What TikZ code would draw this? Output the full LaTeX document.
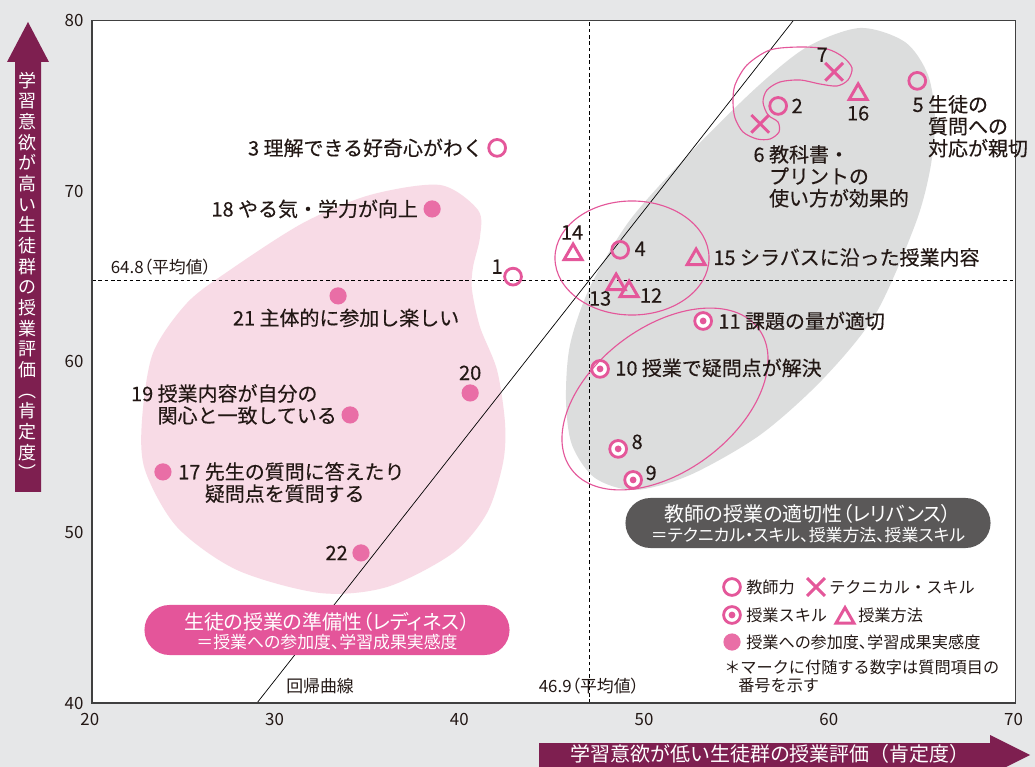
\documentclass[tikz,border=0pt]{standalone}
\usepackage{fontspec}
\setmainfont{Noto Sans CJK JP}
\newfontfamily\jpp{Noto Sans CJK JP}[RawFeature=+palt]
\newfontfamily\jpm{Noto Sans CJK JP}[FakeBold=0.3]
\usetikzlibrary{calc,shapes.geometric,shapes.misc}

\definecolor{bggray}{HTML}{E6E7E8}
\definecolor{blobgray}{HTML}{DCDDDD}
\definecolor{blobpink}{HTML}{F8DBE6}
\definecolor{mkpink}{HTML}{E4579A}
\definecolor{dotpink}{HTML}{E96EA6}
\definecolor{pillpink}{HTML}{E4559A}
\definecolor{pilldark}{HTML}{5A5858}
\definecolor{maroon}{HTML}{7E1F50}
\definecolor{ink}{HTML}{231815}

\tikzset{
  data/.style={shift={(92,703)},x=0.46175cm,y=0.42625cm,shift={(-20,-40)}},
  lbl/.style={inner sep=0pt,align=left,text=ink,font=\jpm\fontsize{14.2}{15.6}\selectfont},
  tick/.style={inner sep=0pt,text=ink,font=\fontsize{12}{14}\selectfont},
  small/.style={inner sep=0pt,text=ink,font=\jpp\fontsize{12}{14}\selectfont},
  note/.style={inner sep=0pt,anchor=west,text=ink,font=\fontsize{11.5}{13}\selectfont},
  ring/.style={draw=mkpink,line width=0.8pt},
  meanline/.style={line width=0.6pt,dash pattern=on 2.5pt off 2pt},
  kyoshi/.style={circle,draw=mkpink,line width=2pt,minimum size=0.42cm,inner sep=0pt},
  gijutsu/.style={cross out,draw=mkpink,line width=2.1pt,minimum size=0.37cm,inner sep=0pt},
  skill/.style={kyoshi,fill=white,path picture={\fill[mkpink] (path picture bounding box.center) circle[radius=0.085cm];}},
  houhou/.style={regular polygon,regular polygon sides=3,draw=mkpink,line width=2.1pt,minimum size=0.52cm,inner sep=0pt},
  sanka/.style={circle,fill=dotpink,minimum size=0.43cm,inner sep=0pt},
  pill/.style={rounded rectangle,minimum width=9.125cm,minimum height=1.25cm,inner sep=0pt},
  pilltitle/.style={inner sep=0pt,text=white,font=\jpp\fontsize{14.2}{16}\selectfont},
  pillsub/.style={inner sep=0pt,text=white,font=\jpp\fontsize{12}{14}\selectfont},
  axlab/.style={inner sep=0pt,text=white,font=\fontsize{14.2}{16}\selectfont}
}

\begin{document}
\begin{tikzpicture}[x=0.025cm,y=-0.025cm]
  \useasboundingbox (0,0) rectangle (1035,767);
  \fill[bggray] (0,0) rectangle (1035,767);
  \begin{scope}[data]
    \fill[white] (20,40) rectangle (70,80);
  \end{scope}

  % groups
  \fill[blobgray] plot[smooth cycle] coordinates {(860,28) (905,42) (928,75) (935,120) (930,170) (915,225) (875,315) (822,380) (760,435) (690,475) (635,490) (595,478) (572,445) (566,400) (570,345) (590,287) (630,220) (690,153) (757,87) (807,47)};
  \fill[blobpink] plot[smooth cycle] coordinates {(440,185) (478,210) (480,237) (473,267) (472,290) (480,327) (497,370) (505,423) (503,463) (487,513) (453,553) (387,587) (320,593) (237,570) (177,527) (145,470) (142,420) (153,353) (187,303) (230,270) (303,223) (370,195)};

  \begin{scope}[data]
    \draw[meanline] (20,64.8) -- (70,64.8);
    \draw[meanline] (46.9,40) -- (46.9,80);
    \draw[line width=0.5pt] (28.93,40) -- (57.95,80);
    \draw[draw=black!75,line width=0.9pt] (20,40) rectangle (70,80);
    \foreach \v in {40,50,...,80}
      \node[tick,anchor=east] at (19.55,\v) {\v};
    \foreach \u in {20,30,...,70}
      \node[tick] at (\u-0.12,39.03) {\u};

    \node[kyoshi] (p1) at (42.79,65.0) {};
    \node[kyoshi] (p2) at (57.14,75.01) {};
    \node[kyoshi] (p3) at (41.93,72.55) {};
    \node[kyoshi] (p4) at (48.59,66.57) {};
    \node[kyoshi] (p5) at (64.67,76.48) {};
    \node[gijutsu] (p6) at (56.17,73.96) {};
    \node[gijutsu] (p7) at (60.17,77.01) {};
    \node[skill] (p8) at (48.48,54.90) {};
    \node[skill] (p9) at (49.29,53.08) {};
    \node[skill] (p10) at (47.50,59.59) {};
    \node[skill] (p11) at (53.08,62.40) {};
    \node[houhou] (p12) at (49.07,64.13) {};
    \node[houhou] (p13) at (48.37,64.54) {};
    \node[houhou] (p14) at (46.04,66.30) {};
    \node[houhou] (p15) at (52.70,66.01) {};
    \node[houhou] (p16) at (61.47,75.69) {};
    \node[sanka] (p17) at (23.84,53.55) {};
    \node[sanka] (p18) at (38.41,68.97) {};
    \node[sanka] (p19) at (33.97,56.89) {};
    \node[sanka] (p20) at (40.47,58.18) {};
    \node[sanka] (p21) at (33.32,63.87) {};
    \node[sanka] (p22) at (34.56,48.80) {};
  \end{scope}

  % rings round the marks
  \draw[ring] (632,258) ellipse [x radius=1.925cm,y radius=1.425cm];
  \draw[ring,rotate around={37:(665,399)}] (665,399) ellipse [x radius=2.925cm,y radius=1.8cm];
  \draw[ring] plot[smooth cycle] coordinates {(800,47) (770,50) (747,65) (735,85) (733,102) (735,118) (743,132) (757,139) (770,139) (779,132) (778,122) (768,115) (763,102) (767,90) (780,82) (800,80) (820,84) (837,86) (848,80) (852,68) (843,57) (827,49)};

  % labels
  \node[lbl] (l1) at ($(p1)+(-16,-10)$) {1};
  \node[lbl] (l2) at ($(p2)+(19,0)$) {2};
  \node[lbl,anchor=east] (l3) at ($(p3)+(-14,0)$) {3 理解できる好奇心がわく};
  \node[lbl] (l4) at ($(p4)+(20,-1)$) {4};
  \node[lbl,anchor=north west] (l5) at ($(p5)+(-5,14)$) {5 生徒の\\\phantom{5 }質問への\\\phantom{5 }対応が親切};
  \node[lbl,anchor=north west] (l6) at ($(p6)+(-7,21)$) {6 教科書・\\\phantom{6 }プリントの\\\phantom{6 }使い方が効果的};
  \node[lbl] (l7) at ($(p7)+(-12,-17)$) {7};
  \node[lbl] (l8) at ($(p8)+(19,-7)$) {8};
  \node[lbl] (l9) at ($(p9)+(18,-7)$) {9};
  \node[lbl,anchor=west] (l10) at ($(p10)+(15,-1)$) {10 授業で疑問点が解決};
  \node[lbl,anchor=west] (l11) at ($(p11)+(15,0)$) {11 課題の量が適切};
  \node[lbl] (l12) at ($(p12)+(22,4)$) {12};
  \node[lbl] (l13) at ($(p13)+(-16,14)$) {13};
  \node[lbl] (l14) at ($(p14)+(-1,-22)$) {14};
  \node[lbl,anchor=west] (l15) at ($(p15)+(17,-2)$) {15 シラバスに沿った授業内容};
  \node[lbl] (l16) at ($(p16)+(0,19)$) {16};
  \node[lbl,anchor=north west] (l17) at ($(p17)+(15,-10)$) {17 先生の質問に答えたり\\\phantom{17 }疑問点を質問する};
  \node[lbl,anchor=east] (l18) at ($(p18)+(-14,0)$) {18 やる気・学力が向上};
  \node[lbl,anchor=south east] (l19) at ($(p19)+(-13,10)$) {19 授業内容が自分の\\\phantom{19 }関心と一致している};
  \node[lbl] (l20) at ($(p20)+(0,-20)$) {20};
  \node[lbl] (l21) at ($(p21)+(8,22)$) {21 主体的に参加し楽しい};
  \node[lbl,anchor=east] (l22) at ($(p22)+(-13,0)$) {22};

  \node[small] (mean-y) at (161,267) {64.8（平均値）};
  \node[small] (mean-x) at (589,686) {46.9（平均値）};
  \node[small] (kaiki) at (320,686) {回帰曲線};

  % group pills
  \node[pill,fill=pillpink] (readiness) at (327,630) {};
  \node[pilltitle] at ($(readiness.center)+(0,-8)$) {生徒の授業の準備性（レディネス）};
  \node[pillsub] at ($(readiness.center)+(0,12)$) {＝授業への参加度、学習成果実感度};
  \node[pill,fill=pilldark] (relevance) at (808,523) {};
  \node[pilltitle] at ($(relevance.center)+(0,-9)$) {教師の授業の適切性（レリバンス）};
  \node[pillsub] at ($(relevance.center)+(0,12)$) {＝テクニカル・スキル、授業方法、授業スキル};

  % legend
  \node[kyoshi] (lg1) at (732,587) {};
  \node[note] at (746,587) {教師力};
  \node[gijutsu] (lg2) at (816,587) {};
  \node[note] at (829,587) {テクニカル・スキル};
  \node[skill] (lg3) at (732,615) {};
  \node[note] at (746,615) {授業スキル};
  \node[houhou] (lg4) at (845,618) {};
  \node[note] at (858,615) {授業方法};
  \node[sanka] (lg5) at (732,642) {};
  \node[note,font=\jpp\fontsize{11.5}{13}\selectfont] at (746,642) {授業への参加度、学習成果実感度};
  \node[note] at (724,667) {＊マークに付随する数字は質問項目の};
  \node[note] at (738,685) {番号を示す};

  % axis arrows
  \fill[maroon] (15,492) -- (15,62) -- (7,62) -- (28,22) -- (49,62) -- (41,62) -- (41,492) -- cycle;
  \node[axlab,align=center,font=\fontsize{12.8}{14.7}\selectfont] (ylab) at (28,276) {学\\習\\意\\欲\\が\\高\\い\\生\\徒\\群\\の\\授\\業\\評\\価\\︵\\肯\\定\\度\\︶};
  \fill[maroon] (539,743) -- (990,743) -- (990,735) -- (1030,755) -- (1006,767) -- (539,767) -- cycle;
  \node[axlab] (xlab) at (770,754) {学習意欲が低い生徒群の授業評価（肯定度）};
\end{tikzpicture}
\end{document}
